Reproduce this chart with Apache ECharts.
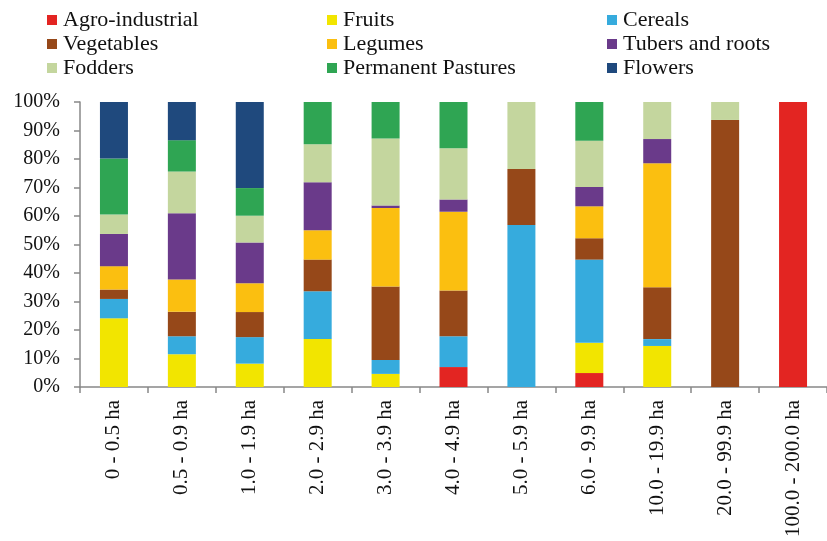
<!DOCTYPE html>
<html>
<head>
<meta charset="utf-8">
<script src="https://cdn.jsdelivr.net/npm/echarts@6/dist/echarts.min.js"></script>
<style>html,body{margin:0;padding:0;background:#fff}#c{width:827px;height:541px}</style>
</head>
<body>
<div id="c"></div>
<script>
var categories = ['0 - 0.5 ha','0.5 - 0.9 ha','1.0 - 1.9 ha','2.0 - 2.9 ha','3.0 - 3.9 ha','4.0 - 4.9 ha','5.0 - 5.9 ha','6.0 - 9.9 ha','10.0 - 19.9 ha','20.0 - 99.9 ha','100.0 - 200.0 ha'];
var agroIndustrial = [0, 0, 0, 0, 0, 7.0, 0, 4.9, 0, 0, 100];
var fruits         = [24.1, 11.5, 8.2, 16.8, 4.6, 0, 0, 10.6, 14.4, 0, 0];
var cereals        = [6.8, 6.3, 9.3, 16.8, 4.9, 10.8, 56.8, 29.2, 2.4, 0, 0];
var vegetables     = [3.3, 8.6, 8.8, 11.1, 25.8, 16.1, 19.7, 7.5, 18.2, 93.7, 0];
var legumes        = [8.2, 11.3, 10.1, 10.3, 27.5, 27.6, 0, 11.2, 43.5, 0, 0];
var tubersRoots    = [11.3, 23.3, 14.3, 16.8, 0.9, 4.3, 0, 6.8, 8.5, 0, 0];
var fodders        = [6.8, 14.6, 9.4, 13.4, 23.5, 18.0, 23.5, 16.2, 13.0, 6.3, 0];
var pastures       = [19.7, 11.0, 9.7, 14.8, 12.8, 16.2, 0, 13.6, 0, 0, 0];
var flowers        = [19.8, 13.4, 30.2, 0, 0, 0, 0, 0, 0, 0, 0];
var yTicks = [0, 10, 20, 30, 40, 50, 60, 70, 80, 90, 100];

var seriesDefs = [
  ['Agro-industrial', agroIndustrial, '#E32522'],
  ['Fruits', fruits, '#F2E500'],
  ['Cereals', cereals, '#36ABDD'],
  ['Vegetables', vegetables, '#964819'],
  ['Legumes', legumes, '#FBBF10'],
  ['Tubers and roots', tubersRoots, '#6A3A8A'],
  ['Fodders', fodders, '#C4D69E'],
  ['Permanent Pastures', pastures, '#2FA553'],
  ['Flowers', flowers, '#1F497D']
];

var axisColor = '#888888';
var serif = '"Liberation Serif", "Times New Roman", serif';

function legendCol(left, names) {
  return {
    orient: 'vertical', left: left, top: 9, padding: 0,
    itemWidth: 10, itemHeight: 10, itemGap: 2, icon: 'rect',
    selectedMode: false,
    textStyle: { fontFamily: serif, fontSize: 22, color: '#111', padding: [0,0,0,1] },
    data: names
  };
}

var option = {
  animation: false,
  legend: [
    legendCol(47, ['Agro-industrial', 'Vegetables', 'Fodders']),
    legendCol(327, ['Fruits', 'Legumes', 'Permanent Pastures']),
    legendCol(607, ['Cereals', 'Tubers and roots', 'Flowers'])
  ],
  grid: { left: 80, top: 102, width: 752, height: 285, containLabel: false },
  xAxis: {
    type: 'category', data: categories,
    axisLine: { lineStyle: { color: axisColor, width: 1.5 } },
    axisTick: { show: true, length: 6, lineStyle: { color: axisColor, width: 1.5 } },
    axisLabel: { rotate: 90, margin: 13, interval: 0, fontFamily: serif, fontSize: 21, color: '#111' }
  },
  yAxis: {
    type: 'value', min: 0, max: 100, interval: 10,
    axisLine: { show: true, lineStyle: { color: axisColor, width: 1.5 } },
    axisTick: { show: true, length: 6, lineStyle: { color: axisColor, width: 1.5 } },
    splitLine: { show: false },
    axisLabel: { margin: 20, fontFamily: serif, fontSize: 20, color: '#111',
      formatter: function (v) { return yTicks.indexOf(v) >= 0 ? v + '%' : ''; } }
  },
  series: seriesDefs.map(function (d) {
    return {
      name: d[0], type: 'bar', stack: 'total', data: d[1], barWidth: 28,
      itemStyle: { color: d[2] }
    };
  })
};
echarts.init(document.getElementById('c')).setOption(option);
</script>
</body>
</html>
